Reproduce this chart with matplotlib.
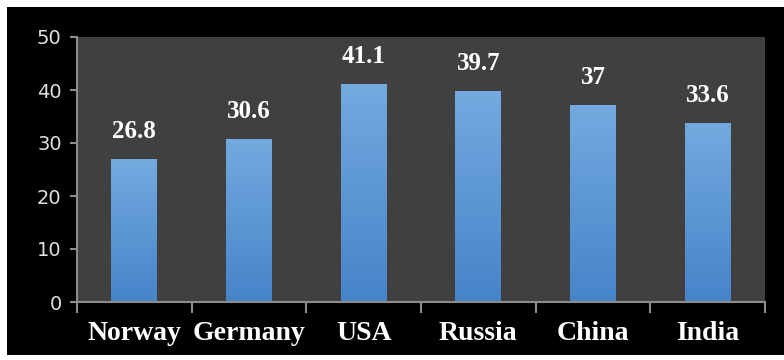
import matplotlib
matplotlib.use("Agg")
import matplotlib.pyplot as plt
import numpy as np
from matplotlib.colors import LinearSegmentedColormap

countries = ["Norway", "Germany", "USA", "Russia", "China", "India"]
values = [26.8, 30.6, 41.1, 39.7, 37, 33.6]
value_labels = ["26.8", "30.6", "41.1", "39.7", "37", "33.6"]
yticks = [0, 10, 20, 30, 40, 50]

fig = plt.figure(figsize=(7.84, 3.6), dpi=100, facecolor="white")
bg = fig.add_axes([7/784, 5/360, 1 - 7/784, 1 - 12/360], zorder=-5)
bg.set_facecolor("black")
bg.set_xticks([]); bg.set_yticks([])
for s in bg.spines.values():
    s.set_visible(False)

ax = fig.add_axes([77/784, 1 - 302/360, (765-77)/784, (302-37)/360], zorder=1)
ax.set_facecolor("#404040")

x = np.arange(len(countries))
width = 0.4
cmap = LinearSegmentedColormap.from_list("g", ["#4684c9", "#73aadf"])
grad = np.linspace(0, 1, 256).reshape(-1, 1)
bars = ax.bar(x, values, width=width, color="none", edgecolor="none")
for b in bars:
    x0, y0 = b.get_x(), b.get_y()
    w, h = b.get_width(), b.get_height()
    ax.imshow(grad, cmap=cmap, origin="lower", aspect="auto",
              extent=[x0, x0 + w, y0, y0 + h], zorder=2)
for xi, v, lab in zip(x, values, value_labels):
    ax.annotate(lab, (xi, v), xytext=(0, 12), textcoords="offset points",
                ha="center", va="bottom", color="white", fontsize=18,
                fontweight="bold", family="Liberation Serif")

ax.set_xlim(-0.5, len(countries) - 0.5)
ax.set_ylim(0, 50)
ax.set_yticks(yticks)
ax.set_yticklabels([str(t) for t in yticks], color="#e0e0e0", fontsize=14)
ax.set_xticks(x)
ax.set_xticklabels(countries, color="white", fontsize=20, fontweight="bold",
                   family="Liberation Serif")
ax.set_xticks(np.arange(-0.5, len(countries)), minor=True)
ax.tick_params(axis="x", which="major", length=0, pad=14)
ax.tick_params(axis="x", which="minor", length=8, color="#8c8c8c", width=1.5)
ax.tick_params(axis="y", length=5, color="#8c8c8c", width=1.5, pad=6)
for s in ["top", "right"]:
    ax.spines[s].set_visible(False)
for s in ["left", "bottom"]:
    ax.spines[s].set_color("#8c8c8c")
    ax.spines[s].set_linewidth(1.5)

fig.savefig("out.png", dpi=100, facecolor="white")
